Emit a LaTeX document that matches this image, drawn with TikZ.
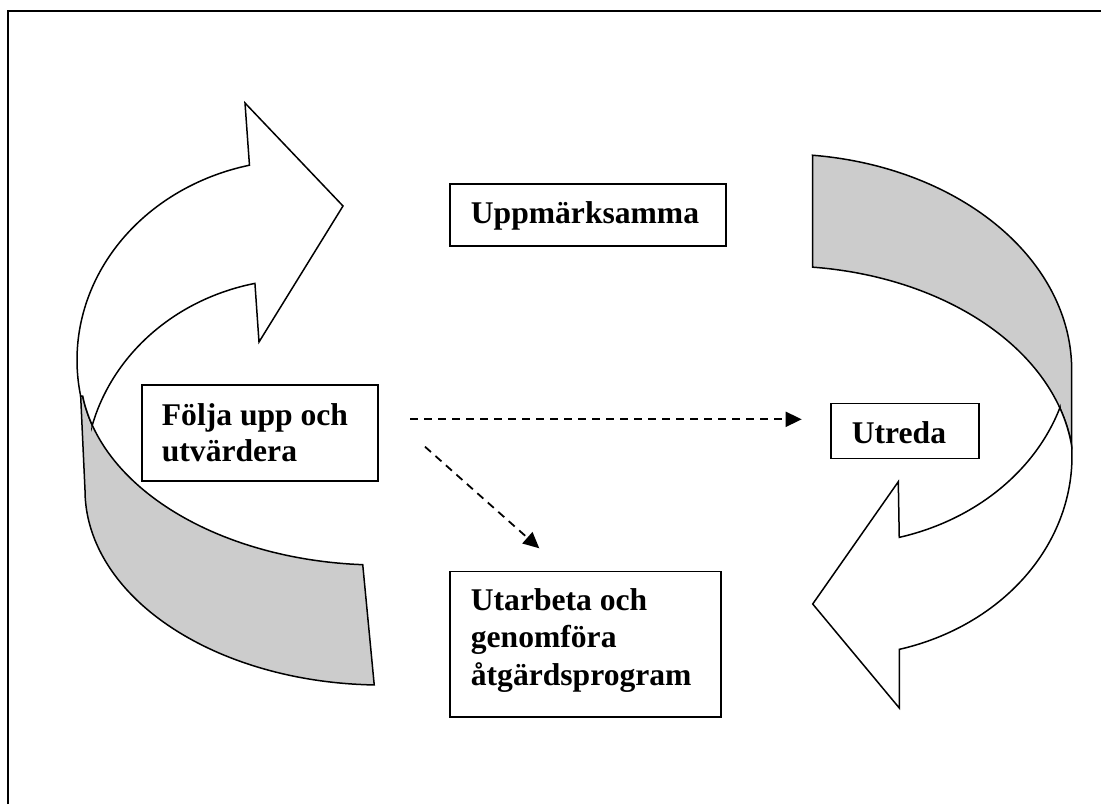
\documentclass[tikz,border=0pt]{standalone}
\usepackage{fontspec}
\setmainfont{Liberation Serif}
\usetikzlibrary{arrows.meta}
\definecolor{bandgray}{RGB}{204,204,204}
\begin{document}
\begin{tikzpicture}[x=1pt,y=-1pt,
  shapeline/.style={draw=black, line width=1.5pt, line join=miter},
  frontface/.style={shapeline, fill=white},
  backface/.style={shapeline, fill=bandgray},
  framebox/.style={draw=black, line width=1.7pt, inner sep=0pt, anchor=north west},
  lbl/.style={font=\bfseries\fontsize{31.6}{36.8}\selectfont, anchor=base west, inner sep=0pt},
  dasharrow/.style={line width=1.8pt, dash pattern=on 8pt off 6pt, -{Triangle[length=16pt,width=15pt]}},
  smp/.style={samples=60, smooth}
]
\useasboundingbox (0,0) rectangle (1101,804);
\fill[white] (0,0) rectangle (1101,804);

% outer frame
\draw[line width=2pt] (7.5,804) -- (7.5,11) -- (1101,11);

% ---------- left curved arrow ----------
\path[backface] ({300+223*cos(169.6)},{360+200*sin(169.6)}) -- (85,490)
  -- plot[smp, domain=180:91.5] ({382+297*cos(\x)},{490+195*sin(\x)})
  -- plot[smp, domain=93.3:172.3] ({380+300*cos(\x)},{370+195*sin(\x)})
  -- cycle;
\path[frontface] ({300+223*cos(256.9)},{360+200*sin(256.9)})
  -- (245,103) -- (343,206) -- (259,342)
  -- plot[smp, domain=257.9:194.7] ({300+215*cos(\x)},{476+197*sin(\x)})
  -- plot[smp, domain=163.7:172.3] ({380+300*cos(\x)},{370+195*sin(\x)})
  -- plot[smp, domain=169.6:256.9] ({300+223*cos(\x)},{360+200*sin(\x)})
  -- cycle;

% ---------- right curved arrow ----------
\path[backface] (812.7,156)
  -- plot[smp, domain=276.1:360] ({781.7+290*cos(\x)},{370+216*sin(\x)})
  -- (1071.7,446)
  -- plot[smp, domain=-6.8:-83.9] ({781.7+292*cos(\x)},{470+204*sin(\x)})
  -- cycle;
\path[frontface] plot[smp, domain=-17.6:-6.8] ({781.7+292*cos(\x)},{470+204*sin(\x)})
  -- plot[smp, domain=-3:75.2] ({840+232*cos(\x)},{456+200*sin(\x)})
  -- (899.3,708) -- (812.7,604) -- (898.3,481.7)
  -- plot[smp, domain=75.2:18.5] ({840+232*cos(\x)},{344+200*sin(\x)})
  -- cycle;

% ---------- boxes ----------
\node[framebox, minimum width=276pt, minimum height=61.7pt] (upbox) at (449,183.3) {};
\node[lbl] (uptext) at (470.7,223.3) {Uppmärksamma};

\node[framebox, minimum width=236.3pt, minimum height=96pt] (fubox) at (141,384) {};
\node[lbl] (futext1) at (161.7,425) {Följa upp och};
\node[lbl] (futext2) at (161.7,461.7) {utvärdera};

\node[framebox, minimum width=148.3pt, minimum height=54.8pt] (utbox) at (830,402.7) {};
\node[lbl] (uttext) at (851.7,443.3) {Utreda};

\node[framebox, minimum width=271pt, minimum height=145.3pt] (uabox) at (449,570.7) {};
\node[lbl] (uatext1) at (470.7,610.7) {Utarbeta och};
\node[lbl] (uatext2) at (470.7,647.3) {genomföra};
\node[lbl] (uatext3) at (470.7,685.7) {åtgärdsprogram};

% ---------- dashed connectors ----------
\coordinate (hstart) at (410,419.3);
\coordinate (hend) at (801.7,419.3);
\coordinate (dstart) at (425,446.7);
\coordinate (dend) at (539.3,548.3);
\draw[dasharrow] (hstart) -- (hend);
\draw[dasharrow] (dstart) -- (dend);
\end{tikzpicture}
\end{document}
